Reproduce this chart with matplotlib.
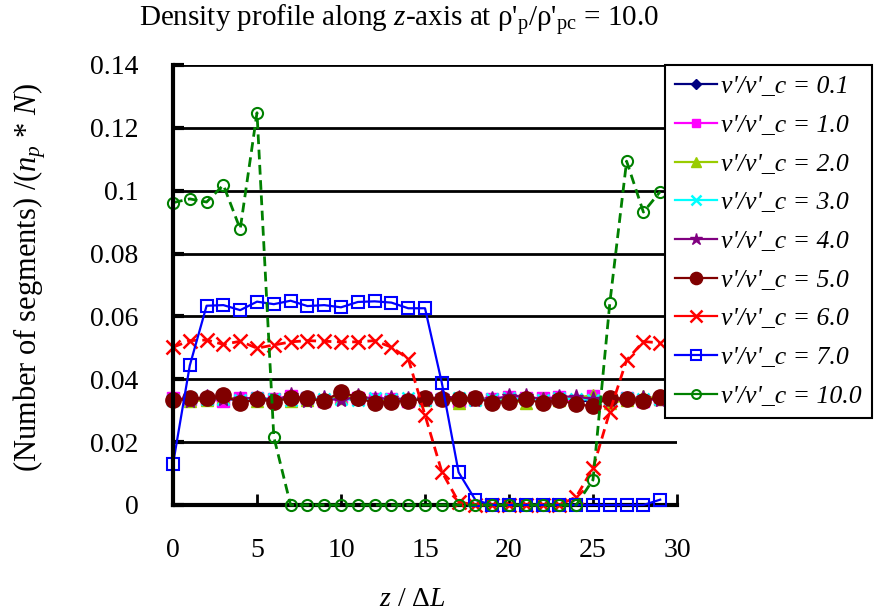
import matplotlib
matplotlib.use("Agg")
import matplotlib.pyplot as plt
import numpy as np

plt.rcParams['font.family'] = ['Liberation Serif', 'DejaVu Serif']
plt.rcParams['mathtext.fontset'] = 'custom'
plt.rcParams['mathtext.rm'] = 'Liberation Serif'
plt.rcParams['mathtext.it'] = 'Liberation Serif:italic'

z = list(range(30))

labels = ["v'/v'_c = 0.1", "v'/v'_c = 1.0", "v'/v'_c = 2.0", "v'/v'_c = 3.0",
          "v'/v'_c = 4.0", "v'/v'_c = 5.0", "v'/v'_c = 6.0", "v'/v'_c = 7.0",
          "v'/v'_c = 10.0"]

v01 = [0.0336, 0.0338, 0.0340, 0.0342, 0.0334, 0.0338, 0.0332, 0.0340, 0.0337, 0.0333,
       0.0345, 0.0338, 0.0330, 0.0334, 0.0335, 0.0340, 0.0336, 0.0338, 0.0341, 0.0330,
       0.0334, 0.0340, 0.0331, 0.0338, 0.0330, 0.0332, 0.0339, 0.0336, 0.0334, 0.0340]
v10 = [0.0342, 0.0336, 0.0337, 0.0330, 0.0340, 0.0339, 0.0336, 0.0346, 0.0340, 0.0332,
       0.0343, 0.0341, 0.0336, 0.0338, 0.0332, 0.0342, 0.0338, 0.0331, 0.0341, 0.0338,
       0.0345, 0.0339, 0.0341, 0.0343, 0.0327, 0.0347, 0.0333, 0.0340, 0.0332, 0.0338]
v20 = [0.0338, 0.0330, 0.0334, 0.0345, 0.0336, 0.0331, 0.0340, 0.0332, 0.0335, 0.0338,
       0.0341, 0.0350, 0.0334, 0.0331, 0.0339, 0.0335, 0.0340, 0.0326, 0.0336, 0.0340,
       0.0332, 0.0326, 0.0339, 0.0335, 0.0341, 0.0350, 0.0325, 0.0333, 0.0348, 0.0336]
v30 = [0.0335, 0.0340, 0.0336, 0.0338, 0.0333, 0.0340, 0.0338, 0.0334, 0.0342, 0.0336,
       0.0338, 0.0333, 0.0340, 0.0337, 0.0339, 0.0334, 0.0336, 0.0340, 0.0335, 0.0338,
       0.0340, 0.0336, 0.0334, 0.0339, 0.0337, 0.0335, 0.0336, 0.0340, 0.0338, 0.0336]
v40 = [0.0337, 0.0332, 0.0343, 0.0336, 0.0338, 0.0342, 0.0334, 0.0349, 0.0331, 0.0339,
       0.0333, 0.0346, 0.0338, 0.0340, 0.0336, 0.0333, 0.0347, 0.0340, 0.0334, 0.0337,
       0.0346, 0.0348, 0.0335, 0.0345, 0.0345, 0.0337, 0.0335, 0.0336, 0.0340, 0.0333]
v50 = [0.0334, 0.0339, 0.0339, 0.0350, 0.0324, 0.0337, 0.0329, 0.0342, 0.0339, 0.0331,
       0.0360, 0.0342, 0.0324, 0.0329, 0.0331, 0.0339, 0.0337, 0.0337, 0.0342, 0.0324,
       0.0327, 0.0337, 0.0324, 0.0334, 0.0320, 0.0315, 0.0342, 0.0337, 0.0331, 0.0345]
v60 = [0.0502, 0.0523, 0.0525, 0.0511, 0.0521, 0.0499, 0.0509, 0.0519, 0.0523, 0.0521,
       0.0519, 0.0519, 0.0523, 0.0502, 0.0466, 0.0286, 0.0106, 0.0010, 0.0000, 0.0000,
       0.0000, 0.0000, 0.0000, 0.0000, 0.0026, 0.0117, 0.0297, 0.0461, 0.0520, 0.0516]
v70 = [0.0130, 0.0444, 0.0634, 0.0636, 0.0620, 0.0647, 0.0639, 0.0650, 0.0633, 0.0636,
       0.0629, 0.0646, 0.0648, 0.0644, 0.0626, 0.0626, 0.0389, 0.0104, 0.0016, 0.0000,
       0.0000, 0.0000, 0.0000, 0.0000, 0.0000, 0.0000, 0.0000, 0.0000, 0.0000, 0.0017]
v100 = [0.0962, 0.0974, 0.0964, 0.1018, 0.0878, 0.1248, 0.0217, 0.0000, 0.0000, 0.0000,
        0.0000, 0.0000, 0.0000, 0.0000, 0.0000, 0.0000, 0.0000, 0.0000, 0.0000, 0.0000,
        0.0000, 0.0000, 0.0000, 0.0000, 0.0000, 0.0080, 0.0642, 0.1094, 0.0932, 0.0997]

series = [v01, v10, v20, v30, v40, v50, v60, v70, v100]
colors = ['#000080', '#FF00FF', '#99CC00', '#00FFFF', '#800080', '#800000',
          '#FF0000', '#0000FF', '#008000']
markers = ['D', 's', '^', 'x', '*', 'o', 'x', 's', 'o']
msizes = [7, 8, 9, 9, 11, 11, 10, 9, 8]
filled = [True, True, True, True, True, True, True, False, False]
dashed = [False, False, False, False, False, False, True, False, True]

W, H = 886, 613
fig = plt.figure(figsize=(W / 100, H / 100), dpi=100)
ax = fig.add_axes([173 / W, 1 - 505 / H, (677 - 173) / W, (505 - 65) / H])

for i, (vals, c, m) in enumerate(zip(series, colors, markers)):
    kw = dict(color=c, marker=m, markersize=msizes[i], lw=1.6, label=labels[i],
              clip_on=False, zorder=3 + i)
    if m == 'x':
        kw['markeredgewidth'] = 1.8
    if not filled[i]:
        kw['markerfacecolor'] = 'none'
        kw['markeredgewidth'] = 1.5
    if dashed[i]:
        kw['linestyle'] = (0, (3.5, 2.0))
        kw['lw'] = 2.0
    ax.plot(z, vals, **kw)

ax.set_xlim(0, 30)
ax.set_ylim(0, 0.14)
ax.set_xticks([0, 5, 10, 15, 20, 25, 30])
ax.set_yticks([0, 0.02, 0.04, 0.06, 0.08, 0.1, 0.12, 0.14])
ax.set_yticklabels(['0', '0.02', '0.04', '0.06', '0.08', '0.1', '0.12', '0.14'])
ax.set_xticklabels(['0', '5', '10', '15', '20', '25', '30'])
ax.yaxis.grid(True, color='black', lw=2)
ax.set_axisbelow(True)
for s in ['top', 'right']:
    ax.spines[s].set_visible(False)
ax.spines['left'].set_linewidth(3)
ax.spines['bottom'].set_linewidth(3)
ax.spines['left'].set_zorder(20)
ax.spines['bottom'].set_zorder(2)
ax.tick_params(axis='y', direction='in', length=8, width=3, pad=25, labelsize=20)
ax.tick_params(axis='x', direction='in', length=8, width=2, pad=24, labelsize=20)

fig.text(399 / W, 1 - 27 / H,
         r"Density profile along $z$-axis at ρ'$_\mathrm{p}$/ρ'$_\mathrm{pc}$ = 10.0",
         ha='center', va='baseline', fontsize=21)
fig.text(412 / W, 1 - 600 / H, r"$z$ / Δ$L$", ha='center', va='center', fontsize=20)
fig.text(30 / W, 1 - 278 / H, r"(Number of segments) /($n_p$ * $N$)",
         ha='center', va='center', rotation=90, fontsize=22)

leg = fig.legend(loc='upper left', bbox_to_anchor=(665 / W, 1 - 65 / H),
                 bbox_transform=fig.transFigure, borderaxespad=0,
                 prop={'style': 'italic', 'size': 18.5}, fancybox=False,
                 framealpha=1, edgecolor='black', borderpad=0.4,
                 handlelength=1.64, handletextpad=0.15, labelspacing=0.61,
                 markerscale=0.8)
leg.get_frame().set_linewidth(1.5)
for line in leg.get_lines():
    line.set_linestyle('-')
    line.set_linewidth(1.6)

fig.savefig('out.png', dpi=100)
